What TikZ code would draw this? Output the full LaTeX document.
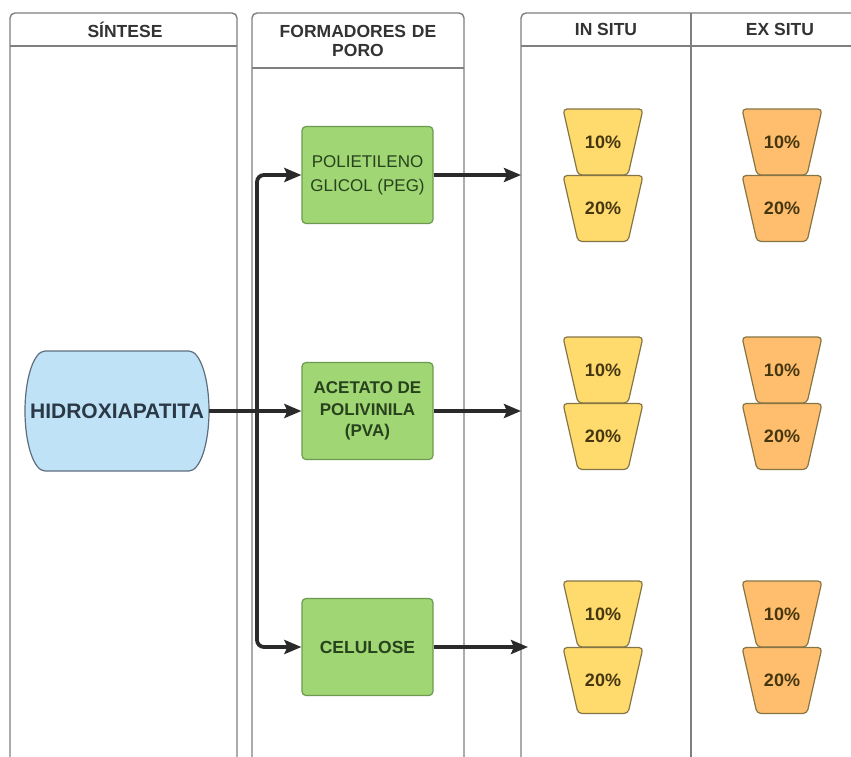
\documentclass[tikz,border=0pt]{standalone}
\usepackage{fontspec}
\setmainfont{Liberation Sans}
\usetikzlibrary{arrows.meta}
\definecolor{colline}{HTML}{7F7F7F}
\definecolor{headtxt}{HTML}{333333}
\definecolor{greenfill}{HTML}{A0D674}
\definecolor{greendraw}{HTML}{6E9A50}
\definecolor{greentxt}{HTML}{27421C}
\definecolor{bluefill}{HTML}{BFE2F6}
\definecolor{bluedraw}{HTML}{5E6E7E}
\definecolor{bluetxt}{HTML}{2B3946}
\definecolor{yelfill}{HTML}{FFDB6E}
\definecolor{orafill}{HTML}{FFBE6E}
\definecolor{trapdraw}{HTML}{857545}
\definecolor{traptxt}{HTML}{45360F}
\definecolor{arrowcol}{HTML}{2A2A2A}
\tikzset{
  colbox/.style={draw=colline, line width=1.4pt},
  headtext/.style={text=headtxt, font=\bfseries\fontsize{17.5}{20}\selectfont, align=center},
  greenbox/.style={draw=greendraw, fill=greenfill, line width=1.2pt, rounded corners=4pt,
    minimum width=131pt, minimum height=97pt, text=greentxt, align=center},
  trapline/.style={draw=trapdraw, line width=1.2pt, rounded corners=4pt},
  traptext/.style={text=traptxt, inner sep=0pt, font=\bfseries\fontsize{18}{20}\selectfont},
  flow/.style={draw=arrowcol, line width=3.8pt, -{Stealth[length=17pt,width=14pt,inset=3pt]}},
  trunk/.style={flow, rounded corners=7pt}
}
\newcommand{\trapshape}[5]{%
  \draw[trapline, fill=#3] (#1-40,#2-33) -- (#1+40,#2-33) -- (#1+25,#2+33) -- (#1-25,#2+33) -- cycle;
  \node[traptext] (#5) at (#1,#2) {#4};}
\begin{document}
\begin{tikzpicture}[x=1pt,y=-1pt]
\useasboundingbox (0,0) rectangle (851,756);
\fill[white] (0,0) rectangle (851,756);
\clip (0,0) rectangle (851,756);

% columns
\draw[colbox, rounded corners=5pt] (10,790) -- (10,13) -- (237,13) -- (237,790);
\draw[colbox] (10,46) -- (237,46);
\draw[colbox, rounded corners=5pt] (252,790) -- (252,13) -- (464,13) -- (464,790);
\draw[colbox] (252,68) -- (464,68);
\draw[colbox, rounded corners=5pt] (521,790) -- (521,13) -- (870,13);
\draw[colbox] (521,46) -- (870,46);
\draw[colbox] (691,13) -- (691,790);

\node[headtext] (hsin) at (125,29.5) {SÍNTESE};
\node[headtext, text width=200pt] (hform) at (358,40.5) {FORMADORES DE\\[-1pt]PORO};
\node[headtext] (hin) at (606,29.5) {IN SITU};
\node[headtext] (hex) at (780,29.5) {EX SITU};

% hydroxyapatite shape
\draw[draw=bluedraw, fill=bluefill, line width=1.2pt]
  (45,351) -- (189,351) arc[start angle=90, end angle=-90, x radius=20pt, y radius=60pt]
  -- (45,471) arc[start angle=270, end angle=90, x radius=20pt, y radius=60pt] -- cycle;
\node[minimum width=184pt, minimum height=120pt, text=bluetxt,
  font=\bfseries\fontsize{21}{24}\selectfont] (ha) at (117,411) {HIDROXIAPATITA};

% green boxes
\node[greenbox, font=\fontsize{17}{24}\selectfont] (peg) at (367.5,175) {POLIETILENO\\GLICOL (PEG)};
\node[greenbox, font=\bfseries\fontsize{17}{21.5}\selectfont] (pva) at (367.5,411) {ACETATO DE\\POLIVINILA\\(PVA)};
\node[greenbox, font=\bfseries\fontsize{17.5}{20}\selectfont] (cel) at (367.5,647) {CELULOSE};

% trapezia
\trapshape{603}{142}{yelfill}{10\%}{i1a}
\trapshape{603}{208.5}{yelfill}{20\%}{i1b}
\trapshape{603}{370}{yelfill}{10\%}{i2a}
\trapshape{603}{436.5}{yelfill}{20\%}{i2b}
\trapshape{603}{614}{yelfill}{10\%}{i3a}
\trapshape{603}{680.5}{yelfill}{20\%}{i3b}
\trapshape{782}{142}{orafill}{10\%}{e1a}
\trapshape{782}{208.5}{orafill}{20\%}{e1b}
\trapshape{782}{370}{orafill}{10\%}{e2a}
\trapshape{782}{436.5}{orafill}{20\%}{e2b}
\trapshape{782}{614}{orafill}{10\%}{e3a}
\trapshape{782}{680.5}{orafill}{20\%}{e3b}

% connectors
\coordinate (split) at (257,411);
\coordinate (endpeg) at (521,175);
\coordinate (endpva) at (521,411);
\coordinate (endcel) at (528,647);
\draw[flow] (ha.east) -- (pva.west);
\draw[trunk] (split) |- (peg.west);
\draw[trunk] (split) |- (cel.west);
\draw[flow] (peg.east) -- (endpeg);
\draw[flow] (pva.east) -- (endpva);
\draw[flow] (cel.east) -- (endcel);
\end{tikzpicture}
\end{document}
